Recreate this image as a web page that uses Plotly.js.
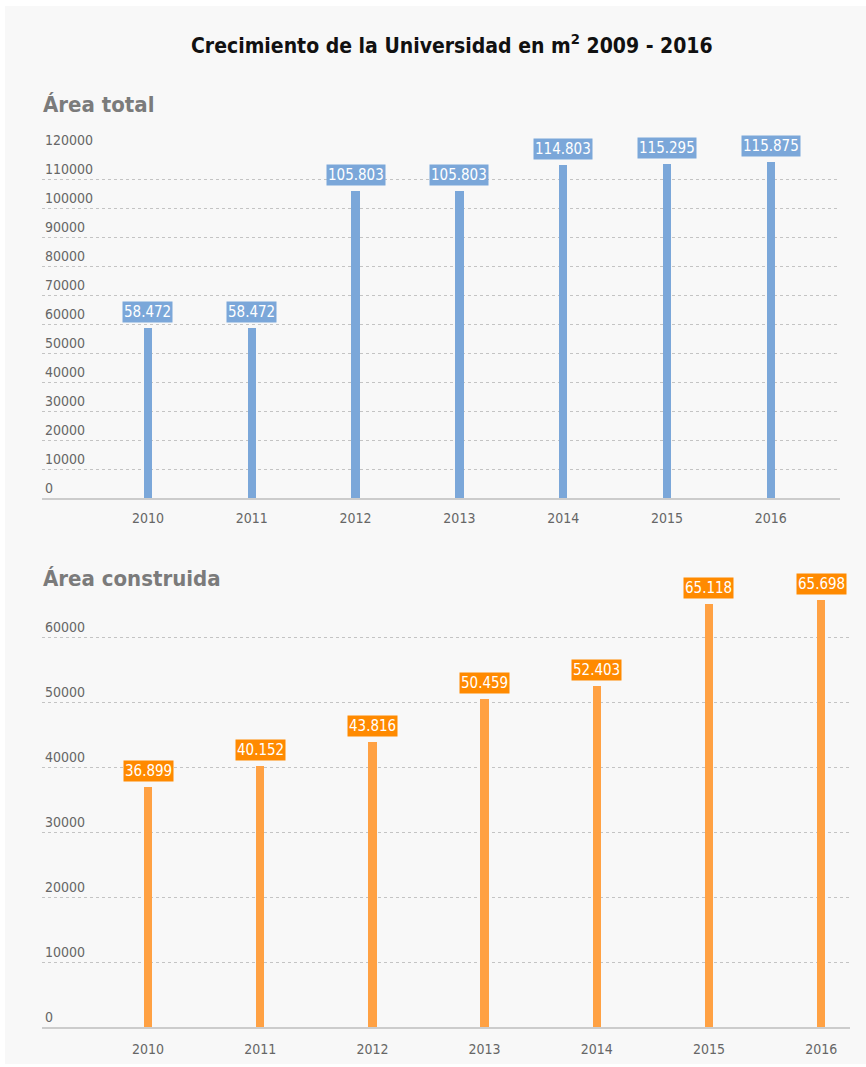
<!DOCTYPE html>
<html>
<head>
<meta charset="utf-8">
<script src="https://cdn.plot.ly/plotly-3.0.1.min.js"></script>
<style>
  html, body { margin: 0; padding: 0; background: #ffffff; }
  #chart { width: 866px; height: 1067px; }
</style>
</head>
<body>
<div id="chart"></div>
<script>
// ---- data ----
const years = [2010, 2011, 2012, 2013, 2014, 2015, 2016];
const areaTotal = [58472, 58472, 105803, 105803, 114803, 115295, 115875];
const areaConstruida = [36899, 40152, 43816, 50459, 52403, 65118, 65698];
const titleText = 'Crecimiento de la Universidad en m<sup>2</sup> 2009 - 2016';
const sectionTitles = ['Área total', 'Área construida'];

// ---- styles ----
const W = 866, H = 1067;
const blueBar = '#7ba7d9', blueLabel = '#7ba7d9';
const orangeBar = '#ffa143', orangeLabel = '#ff8a00';
const FAM = 'DejaVu Sans Condensed, Roboto, sans-serif';
const tickFont = { family: FAM, size: 14, color: '#666666' };
const labelFont = { family: FAM, size: 15, color: '#ffffff' };

function fmt(v) {
  return String(v).replace(/\B(?=(\d{3})+(?!\d))/g, '.');
}
function px(x) { return x / W; }
function py(y) { return 1 - y / H; }

const traces = [
  { type: 'bar', x: years, y: areaTotal, xaxis: 'x', yaxis: 'y',
    marker: { color: blueBar }, width: 0.08, hoverinfo: 'x+y', cliponaxis: false },
  { type: 'bar', x: years, y: areaConstruida, xaxis: 'x2', yaxis: 'y2',
    marker: { color: orangeBar }, width: 0.075, hoverinfo: 'x+y', cliponaxis: false }
];

const annotations = [];
years.forEach((yr, i) => {
  annotations.push({ x: yr, y: areaTotal[i], xref: 'x', yref: 'y', text: fmt(areaTotal[i]),
    showarrow: false, yanchor: 'bottom', yshift: 5, bgcolor: blueLabel, borderpad: 1, font: labelFont });
  annotations.push({ x: yr, y: areaConstruida[i], xref: 'x2', yref: 'y2', text: fmt(areaConstruida[i]),
    showarrow: false, yanchor: 'bottom', yshift: 5, bgcolor: orangeLabel, borderpad: 1, font: labelFont });
});
annotations.push({ xref: 'paper', yref: 'paper', x: px(452), y: py(44), text: '<b>' + titleText + '</b>',
  showarrow: false, xanchor: 'center', yanchor: 'middle',
  font: { family: FAM, size: 21, color: '#111111' } });
annotations.push({ xref: 'paper', yref: 'paper', x: px(41), y: py(104), text: '<b>' + sectionTitles[0] + '</b>',
  showarrow: false, xanchor: 'left', yanchor: 'middle',
  font: { family: FAM, size: 22, color: '#7b7b7b' } });
annotations.push({ xref: 'paper', yref: 'paper', x: px(41), y: py(578), text: '<b>' + sectionTitles[1] + '</b>',
  showarrow: false, xanchor: 'left', yanchor: 'middle',
  font: { family: FAM, size: 22, color: '#7b7b7b' } });

const yCommon = {
  showgrid: true, gridcolor: '#c4c4c4', griddash: 'dot', gridwidth: 1,
  zeroline: false, showline: false, ticks: '', tickformat: 'd',
  ticklabelposition: 'inside top', ticklabeloverflow: 'allow',
  tickfont: tickFont, fixedrange: true
};
const xCommon = {
  type: 'linear', tickvals: years, ticktext: years.map(String),
  showgrid: false, zeroline: false, showline: true, linecolor: '#cccccc', linewidth: 2,
  ticks: '', tickfont: tickFont, fixedrange: true
};

const layout = {
  width: W, height: H,
  margin: { l: 0, r: 0, t: 0, b: 0 },
  paper_bgcolor: '#ffffff', plot_bgcolor: 'rgba(0,0,0,0)',
  showlegend: false,
  bargap: 0,
  shapes: [{ type: 'rect', xref: 'paper', yref: 'paper', x0: px(5), x1: 1, y0: py(1064), y1: py(6),
    fillcolor: '#f8f8f8', line: { width: 0 }, layer: 'below' }],
  xaxis: Object.assign({}, xCommon, { domain: [px(42), px(840)], range: [2008.979, 2016.667], anchor: 'y', ticklabelstandoff: 6 }),
  yaxis: Object.assign({}, yCommon, { domain: [py(498), py(150)], range: [0, 120000], dtick: 10000, anchor: 'x' }),
  xaxis2: Object.assign({}, xCommon, { domain: [px(42), px(850)], range: [2009.055, 2016.257], anchor: 'y2', ticklabelstandoff: 8 }),
  yaxis2: Object.assign({}, yCommon, { domain: [py(1027), py(585)], range: [0, 68000], dtick: 10000, anchor: 'x2' }),
  annotations: annotations
};

Plotly.newPlot('chart', traces, layout, { displayModeBar: false, staticPlot: true });
</script>
</body>
</html>
